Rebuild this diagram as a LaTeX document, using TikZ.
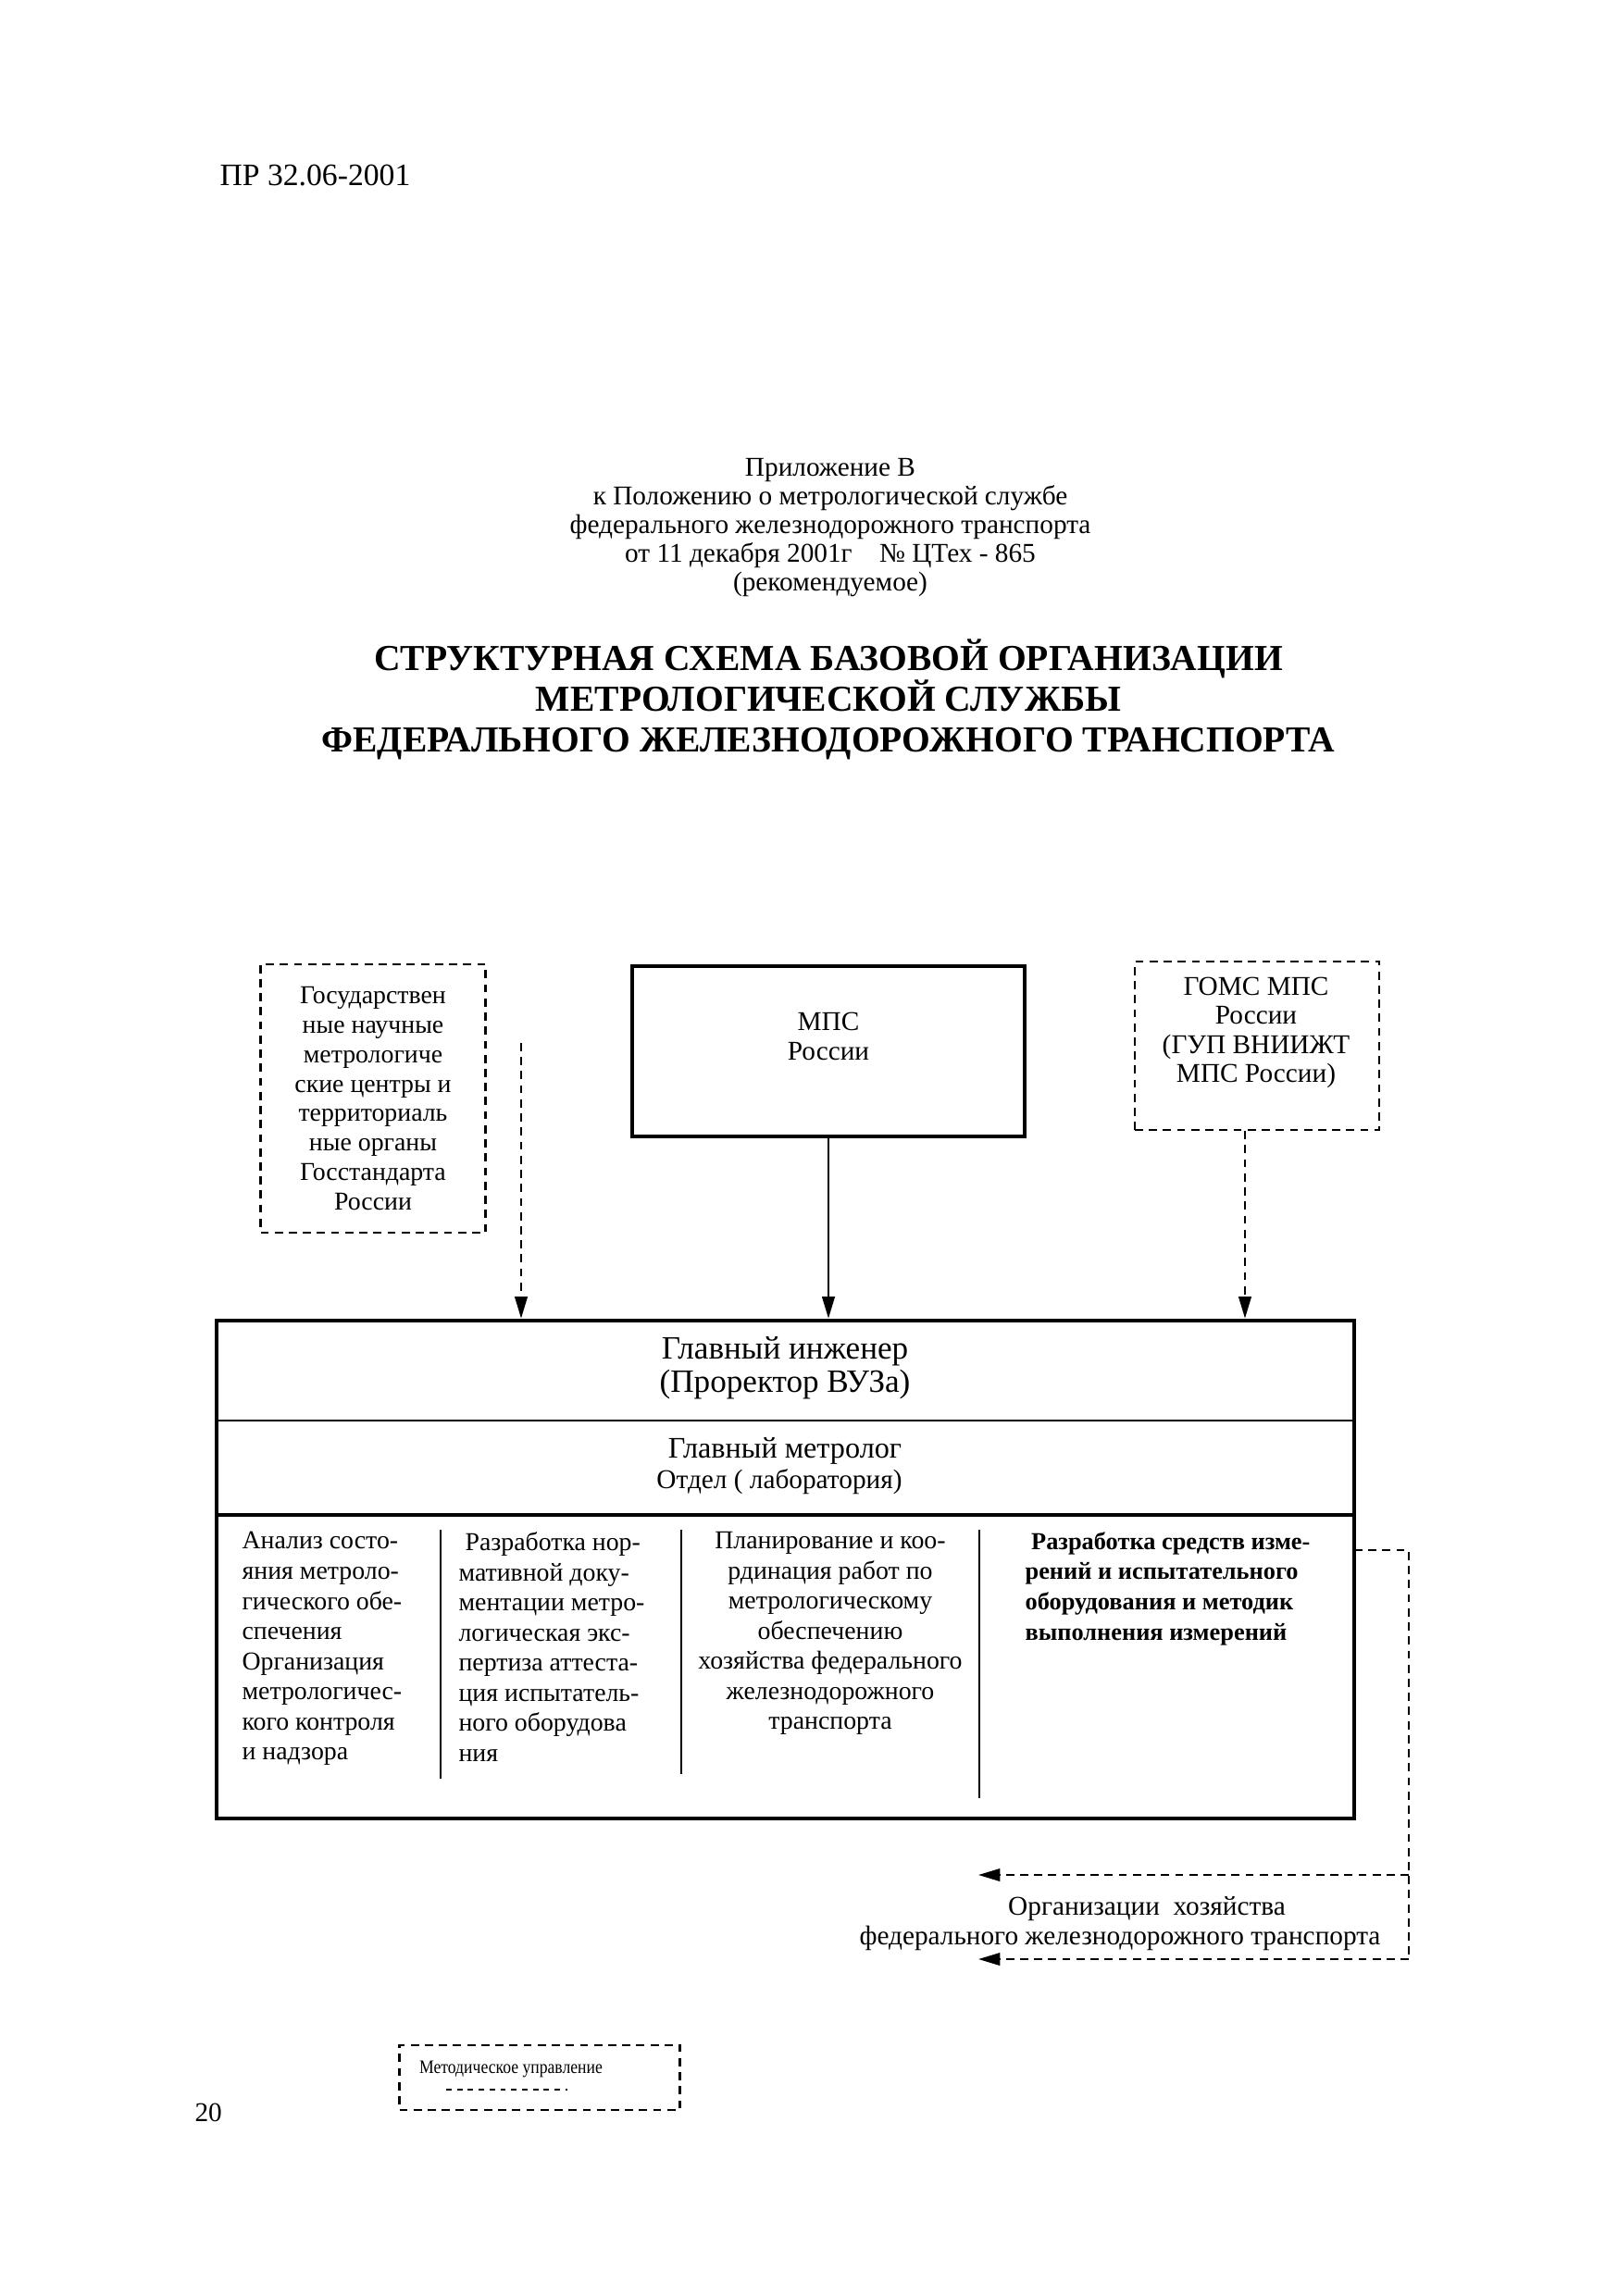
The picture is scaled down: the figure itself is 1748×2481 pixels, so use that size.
\documentclass[tikz,border=0pt]{standalone}
\usepackage{fontspec}
\usepackage{graphicx}
\setmainfont{Liberation Serif}
\usetikzlibrary{arrows.meta,fit}
\begin{document}
\begin{tikzpicture}[x=0.12mm,y=-0.12mm,
  txt/.style={inner sep=0pt,align=center},
  dbox/.style={draw,line width=0.8pt,dash pattern=on 3pt off 2.2pt,inner sep=0pt,align=center},
  sbox/.style={draw,line width=1.3pt,inner sep=0pt,align=center},
  darr/.style={line width=0.8pt,dash pattern=on 3pt off 2.2pt,-{Triangle[length=8pt,width=4.6pt]}},
  sarr/.style={line width=0.8pt,-{Triangle[length=8pt,width=4.6pt]}},
  dline/.style={line width=0.8pt,dash pattern=on 3pt off 2.2pt},
  colsep/.style={line width=0.6pt},
  coltext/.style={inner sep=0pt,font=\fontsize{9.5}{11.1}\selectfont}
]
\useasboundingbox (0,0) rectangle (1748,2481);

% header
\node[anchor=base west,inner sep=0pt,font=\fontsize{11.5}{12}\selectfont] (hdr) at (237,200) {ПР 32.06-2001};

\node[txt,font=\fontsize{10}{10.6}\selectfont] (app) at (897,570)
 {Приложение В\\к Положению о метрологической службе\\федерального железнодорожного транспорта\\от 11 декабря 2001г\quad № ЦТех - 865\\(рекомендуемое)};

\node[txt,font=\bfseries\fontsize{13.5}{15}\selectfont] (title) at (895,756)
 {СТРУКТУРНАЯ СХЕМА БАЗОВОЙ ОРГАНИЗАЦИИ\\МЕТРОЛОГИЧЕСКОЙ СЛУЖБЫ\\ФЕДЕРАЛЬНОГО ЖЕЛЕЗНОДОРОЖНОГО ТРАНСПОРТА};

% top boxes
\node[dbox,minimum width=243*0.12mm,minimum height=290*0.12mm,font=\fontsize{9.5}{10.9}\selectfont] (gos) at (403,1187)
 {Государствен\\ные научные\\метрологиче\\ские центры и\\территориаль\\ные органы\\Госстандарта\\России};
\node[sbox,minimum width=424*0.12mm,minimum height=184*0.12mm] (mps) at (895,1136) {};
\node[txt,font=\fontsize{10}{10.9}\selectfont] (mpst) at (895,1120) {МПС\\России};
\node[dbox,minimum width=264*0.12mm,minimum height=182*0.12mm] (goms) at (1358,1130) {};
\node[txt,font=\fontsize{10}{10.7}\selectfont] (gomst) at (1357,1116) {ГОМС МПС\\России\\(ГУП ВНИИЖТ\\МПС России)};

% big box
\coordinate (bTL) at (234,1427);
\coordinate (bBR) at (1463,1965);
\node[draw,line width=1.6pt,inner sep=0pt,fit=(bTL)(bBR)] (big) {};
\coordinate (r1) at (0,1535);
\coordinate (r2) at (0,1637);
\draw[line width=1pt] (big.west |- r1) -- (big.east |- r1);
\draw[line width=1.5pt] (big.west |- r2) -- (big.east |- r2);

\coordinate (s1t) at (476,1653); \coordinate (s1b) at (476,1922);
\coordinate (s2t) at (736,1653); \coordinate (s2b) at (736,1917);
\coordinate (s3t) at (1058,1653); \coordinate (s3b) at (1058,1943);
\draw[colsep] (s1t) -- (s1b);
\draw[colsep] (s2t) -- (s2b);
\draw[colsep] (s3t) -- (s3b);

\node[txt,font=\fontsize{12}{12.2}\selectfont] (eng) at (848,1478) {Главный инженер\\(Проректор ВУЗа)};
\node[txt,font=\fontsize{11}{11}\selectfont] (met) at (848,1568) {Главный метролог};
\node[txt,font=\fontsize{10}{10}\selectfont] (lab) at (842,1601) {Отдел ( лаборатория)};

\node[coltext,anchor=north west,align=left] (c1) at (261,1655)
 {Анализ состо-\\яния метроло-\\гического обе-\\спечения\\Организация\\метрологичес-\\кого контроля\\и надзора};
\node[coltext,anchor=north west,align=left] (c2) at (495,1655)
 {\ Разработка нор-\\мативной доку-\\ментации метро-\\логическая экс-\\пертиза аттеста-\\ция испытатель-\\ного оборудова\\ния};
\node[coltext,anchor=north,align=center] (c3) at (897,1655)
 {Планирование и коо-\\рдинация работ по\\метрологическому\\обеспечению\\хозяйства федерального\\железнодорожного\\транспорта};
\node[coltext,anchor=north west,align=left,font=\bfseries\fontsize{9}{11.1}\selectfont] (c4) at (1107,1655)
 {\ Разработка средств изме-\\рений и испытательного\\оборудования и методик\\выполнения измерений};

% connectors into big box
\coordinate (gosout) at (563,1127);
\draw[darr] (gosout) -- (gosout |- big.north);
\draw[sarr] (mps.south) -- (mps.south |- big.north);
\draw[darr] ([xshift=-13*0.12mm]goms.south) -- ([xshift=-13*0.12mm]goms.south |- big.north);

% right side
\coordinate (rOut) at (1463,1675);
\coordinate (rCorner) at (1522,1675);
\coordinate (rB1) at (1522,2026);
\coordinate (rB2) at (1522,2117);
\coordinate (a1) at (1057,2026);
\coordinate (a2) at (1057,2117);
\draw[dline] (rOut) -- (rCorner) -- (rB2);
\draw[darr] (rB1) -- (a1);
\draw[darr] (rB2) -- (a2);
\node[txt,font=\fontsize{10}{10}\selectfont] (orgA) at (1239,2063) {Организации\ \ хозяйства};
\node[txt,font=\fontsize{10}{10}\selectfont] (orgB) at (1210,2094) {федерального железнодорожного транспорта};

% legend
\node[dbox,minimum width=303*0.12mm,minimum height=70*0.12mm] (leg) at (583,2245) {};
\node[txt,font=\fontsize{7}{7}\selectfont] (legt) at (552,2236) {\scalebox{0.86}[1]{Методическое управление}};
\coordinate (u1) at (482,2258); \coordinate (u2) at (613,2258);
\draw[line width=0.5pt,dash pattern=on 2pt off 2pt] (u1) -- (u2);

\node[anchor=base west,inner sep=0pt,font=\fontsize{10}{10}\selectfont] (pg) at (210,2292) {20};
\end{tikzpicture}
\end{document}
